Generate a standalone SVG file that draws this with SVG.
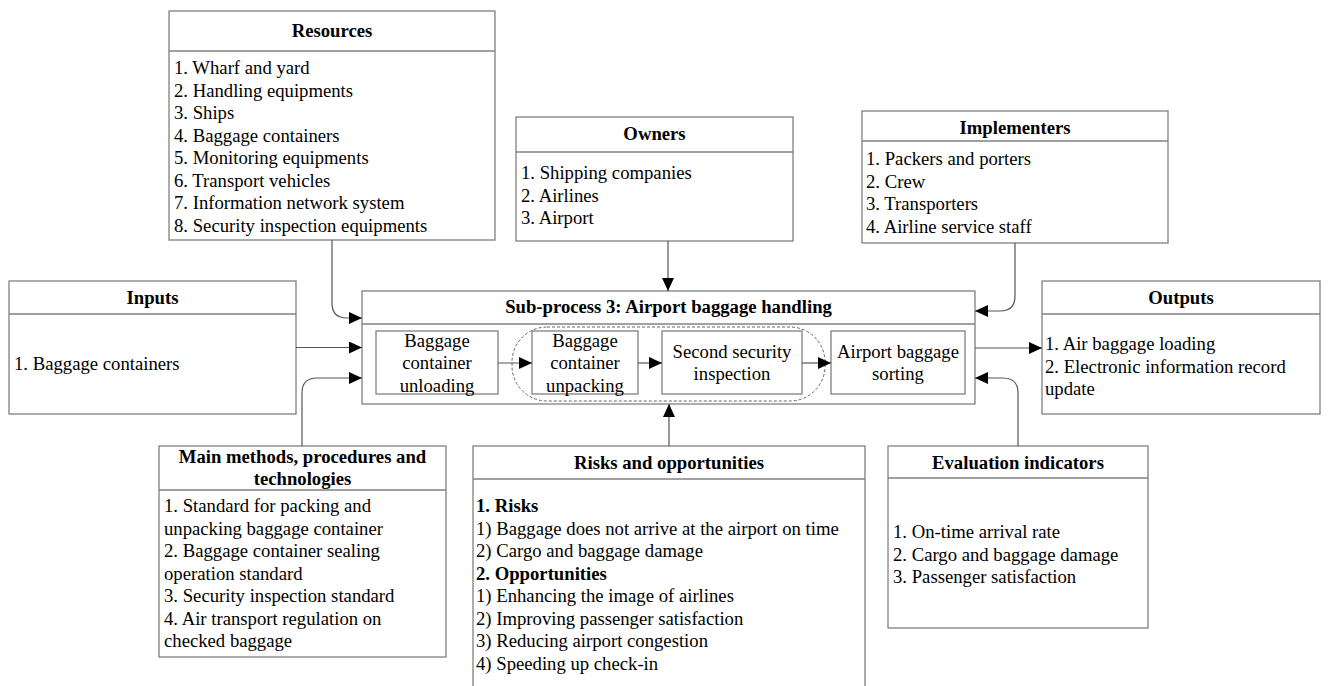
<svg xmlns="http://www.w3.org/2000/svg" width="1328" height="686" viewBox="0 0 1328 686">
<defs>
<marker id="arr" markerUnits="userSpaceOnUse" markerWidth="13" markerHeight="12" refX="13" refY="6" orient="auto">
<path d="M0,0 L13,6 L0,12 z" fill="#000"/>
</marker>
<style>
.box{fill:#fff;stroke:#808080;stroke-width:1.3}
.sep{stroke:#808080;stroke-width:1.3;fill:none}
.t{font-family:"Liberation Serif","Times New Roman",serif;font-size:18.7px;fill:#000}
.b{font-weight:bold}
.c{text-anchor:middle}
.con{fill:none;stroke:#555;stroke-width:1.2}
.dash{fill:none;stroke:#666;stroke-width:1;stroke-dasharray:3,2}
</style>
</defs>
<rect width="1328" height="686" fill="#fff"/>

<g id="resources">
<rect class="box" x="169" y="11" width="326" height="229"/>
<line class="sep" x1="169" y1="51" x2="495" y2="51"/>
<text class="t b c" x="332" y="37">Resources</text>
<text class="t" x="174" y="74">1. Wharf and yard</text>
<text class="t" x="174" y="96.5">2. Handling equipments</text>
<text class="t" x="174" y="119">3. Ships</text>
<text class="t" x="174" y="141.5">4. Baggage containers</text>
<text class="t" x="174" y="164">5. Monitoring equipments</text>
<text class="t" x="174" y="186.5">6. Transport vehicles</text>
<text class="t" x="174" y="209">7. Information network system</text>
<text class="t" x="174" y="231.5">8. Security inspection equipments</text>
</g>

<g id="owners">
<rect class="box" x="516" y="117" width="277" height="124"/>
<line class="sep" x1="516" y1="152" x2="793" y2="152"/>
<text class="t b c" x="654.5" y="140">Owners</text>
<text class="t" x="521" y="179">1. Shipping companies</text>
<text class="t" x="521" y="201.5">2. Airlines</text>
<text class="t" x="521" y="224">3. Airport</text>
</g>

<g id="implementers">
<rect class="box" x="862" y="111" width="306" height="132"/>
<line class="sep" x1="862" y1="141" x2="1168" y2="141"/>
<text class="t b c" x="1015" y="134">Implementers</text>
<text class="t" x="866" y="165">1. Packers and porters</text>
<text class="t" x="866" y="187.5">2. Crew</text>
<text class="t" x="866" y="210">3. Transporters</text>
<text class="t" x="866" y="232.5">4. Airline service staff</text>
</g>

<g id="inputs">
<rect class="box" x="9" y="281" width="287" height="133"/>
<line class="sep" x1="9" y1="314" x2="296" y2="314"/>
<text class="t b c" x="152.5" y="304">Inputs</text>
<text class="t" x="14" y="370">1. Baggage containers</text>
</g>

<g id="outputs">
<rect class="box" x="1042" y="281" width="278" height="133"/>
<line class="sep" x1="1042" y1="314" x2="1320" y2="314"/>
<text class="t b c" x="1181" y="304">Outputs</text>
<text class="t" x="1045" y="350">1. Air baggage loading</text>
<text class="t" x="1045" y="372.5">2. Electronic information record</text>
<text class="t" x="1045" y="395">update</text>
</g>

<g id="subprocess">
<rect class="box" x="362" y="291" width="613" height="113" stroke="#999"/>
<line class="sep" x1="362" y1="324" x2="975" y2="324"/>
<text class="t b c" x="668.5" y="313">Sub-process 3: Airport baggage handling</text>
<rect class="dash" x="512" y="327" width="313" height="74" rx="35" ry="35"/>
</g>

<g id="step1">
<rect class="box" x="376" y="331" width="122" height="63"/>
<text class="t c" x="437" y="347">Baggage</text>
<text class="t c" x="437" y="369">container</text>
<text class="t c" x="437" y="391.5">unloading</text>
</g>

<g id="step2">
<rect class="box" x="532" y="331" width="106" height="63"/>
<text class="t c" x="585" y="347">Baggage</text>
<text class="t c" x="585" y="369">container</text>
<text class="t c" x="585" y="391.5">unpacking</text>
</g>

<g id="step3">
<rect class="box" x="662" y="331" width="140" height="63"/>
<text class="t c" x="732" y="358">Second security</text>
<text class="t c" x="732" y="380">inspection</text>
</g>

<g id="step4">
<rect class="box" x="831" y="331" width="134" height="63"/>
<text class="t c" x="898" y="358">Airport baggage</text>
<text class="t c" x="898" y="380">sorting</text>
</g>

<g id="methods">
<rect class="box" x="159" y="446" width="287" height="211"/>
<line class="sep" x1="159" y1="490" x2="446" y2="490"/>
<text class="t b c" x="302.5" y="463">Main methods, procedures and</text>
<text class="t b c" x="302.5" y="484.5">technologies</text>
<text class="t" x="164" y="512">1. Standard for packing and</text>
<text class="t" x="164" y="534.5">unpacking baggage container</text>
<text class="t" x="164" y="557">2. Baggage container sealing</text>
<text class="t" x="164" y="579.5">operation standard</text>
<text class="t" x="164" y="602">3. Security inspection standard</text>
<text class="t" x="164" y="624.5">4. Air transport regulation on</text>
<text class="t" x="164" y="647">checked baggage</text>
</g>

<g id="risks">
<rect class="box" x="473" y="446" width="392" height="260"/>
<line class="sep" x1="473" y1="479" x2="865" y2="479"/>
<text class="t b c" x="669" y="469">Risks and opportunities</text>
<text class="t b" x="476" y="512">1. Risks</text>
<text class="t" x="476" y="534.5">1) Baggage does not arrive at the airport on time</text>
<text class="t" x="476" y="557">2) Cargo and baggage damage</text>
<text class="t b" x="476" y="579.5">2. Opportunities</text>
<text class="t" x="476" y="602">1) Enhancing the image of airlines</text>
<text class="t" x="476" y="624.5">2) Improving passenger satisfaction</text>
<text class="t" x="476" y="647">3) Reducing airport congestion</text>
<text class="t" x="476" y="669.5">4) Speeding up check-in</text>
</g>

<g id="evaluation">
<rect class="box" x="888" y="446" width="260" height="182"/>
<line class="sep" x1="888" y1="478" x2="1148" y2="478"/>
<text class="t b c" x="1018" y="469">Evaluation indicators</text>
<text class="t" x="893" y="538">1. On-time arrival rate</text>
<text class="t" x="893" y="560.5">2. Cargo and baggage damage</text>
<text class="t" x="893" y="583">3. Passenger satisfaction</text>
</g>

<g id="connectors">
<path class="con" d="M332,240 V303 Q332,318 347,318 H362" marker-end="url(#arr)"/>
<path class="con" d="M296,347.5 H362" marker-end="url(#arr)"/>
<path class="con" d="M302,446 V393 Q302,378 317,378 H362" marker-end="url(#arr)"/>
<path class="con" d="M668,241 V291" marker-end="url(#arr)"/>
<path class="con" d="M669,446 V404" marker-end="url(#arr)"/>
<path class="con" d="M1015,243 V296 Q1015,311 1000,311 H975" marker-end="url(#arr)"/>
<path class="con" d="M975,348 H1042" marker-end="url(#arr)"/>
<path class="con" d="M1018,446 V393 Q1018,378 1003,378 H975" marker-end="url(#arr)"/>
<path class="con" d="M498,363 H532" marker-end="url(#arr)"/>
<path class="con" d="M638,363 H662" marker-end="url(#arr)"/>
<path class="con" d="M802,363 H831" marker-end="url(#arr)"/>
</g>
</svg>
